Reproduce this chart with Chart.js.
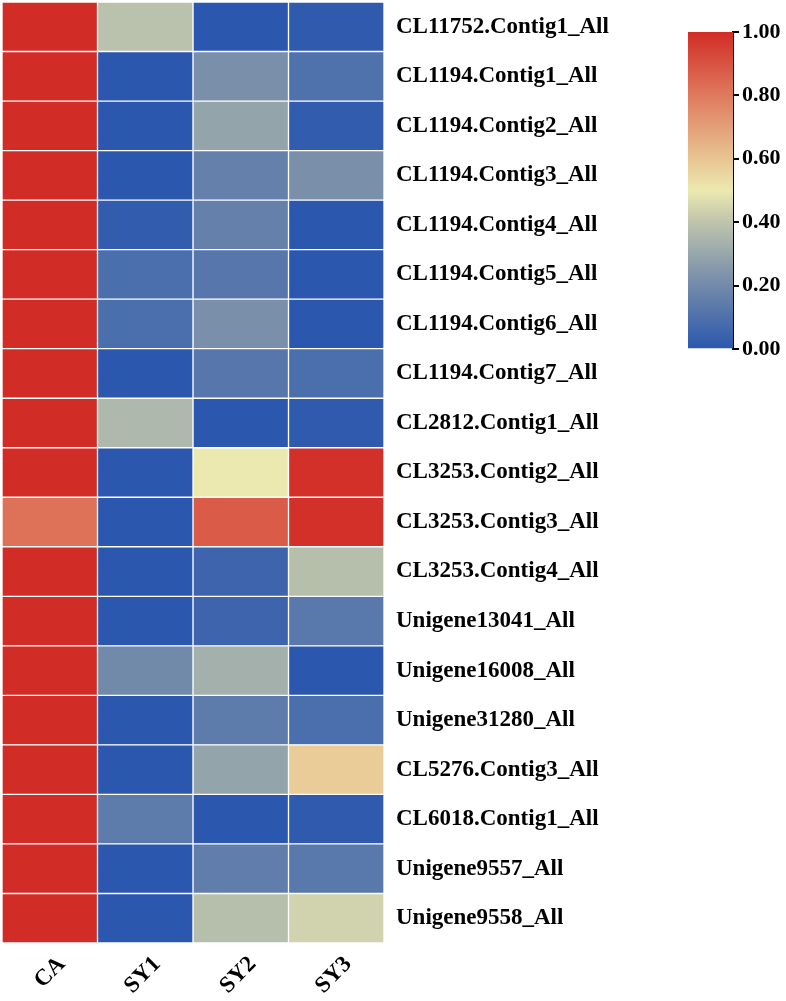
<!DOCTYPE html>
<html>
<head>
<meta charset="utf-8">
<script src="https://cdn.jsdelivr.net/npm/chart.js@4"></script>
<style>
  html, body { margin: 0; padding: 0; background: #fff; }
  body { width: 786px; height: 1001px; position: relative; overflow: hidden; }
  #main { position: absolute; left: 0; top: 0; width: 640px; height: 1001px; }
  #bar { position: absolute; left: 650px; top: 0; width: 136px; height: 380px; }
</style>
</head>
<body>
<div id="main"><canvas id="heat"></canvas></div>
<div id="bar"><canvas id="scale"></canvas></div>
<script>
// ---- data ----
const genes = [
  "CL11752.Contig1_All", "CL1194.Contig1_All", "CL1194.Contig2_All", "CL1194.Contig3_All",
  "CL1194.Contig4_All", "CL1194.Contig5_All", "CL1194.Contig6_All", "CL1194.Contig7_All",
  "CL2812.Contig1_All", "CL3253.Contig2_All", "CL3253.Contig3_All", "CL3253.Contig4_All",
  "Unigene13041_All", "Unigene16008_All", "Unigene31280_All", "CL5276.Contig3_All",
  "CL6018.Contig1_All", "Unigene9557_All", "Unigene9558_All"
];
const samples = ["CA", "SY1", "SY2", "SY3"];
const valuesCA  = [1, 1, 1, 1, 1, 1, 1, 1, 1, 1, 0.82, 1, 1, 1, 1, 1, 1, 1, 1];
const valuesSY1 = [0.39, 0, 0, 0, 0.02, 0.09, 0.09, 0, 0.36, 0, 0, 0, 0, 0.2, 0, 0, 0.14, 0, 0];
const valuesSY2 = [0, 0.22, 0.29, 0.16, 0.16, 0.12, 0.22, 0.12, 0, 0.5, 0.88, 0.05, 0.05, 0.33, 0.14, 0.29, 0, 0.15, 0.38];
const valuesSY3 = [0.01, 0.1, 0.02, 0.22, 0, 0, 0, 0.09, 0.01, 0.99, 0.99, 0.38, 0.13, 0, 0.09, 0.58, 0.01, 0.13, 0.44];
const seriesValues = [valuesCA, valuesSY1, valuesSY2, valuesSY3];
const colorbarTicks = [0, 0.2, 0.4, 0.6, 0.8, 1.0];
const colorbarRange = [0, 1];

// ---- colour map (style) ----
const cmap = [
  [0.0, [43, 87, 174]],
  [0.2, [114, 138, 170]],
  [0.4, [190, 196, 172]],
  [0.5, [236, 233, 176]],
  [0.6, [232, 197, 146]],
  [0.8, [223, 122, 93]],
  [1.0, [210, 44, 38]]
];
function colorFor(v) {
  v = Math.max(0, Math.min(1, v));
  for (let i = 1; i < cmap.length; i++) {
    if (v <= cmap[i][0]) {
      const [a, ca] = cmap[i - 1], [b, cb] = cmap[i];
      const t = (v - a) / (b - a);
      const c = ca.map((x, k) => Math.round(x + (cb[k] - x) * t));
      return `rgb(${c[0]},${c[1]},${c[2]})`;
    }
  }
  const c = cmap[cmap.length - 1][1];
  return `rgb(${c[0]},${c[1]},${c[2]})`;
}

const FONT = "'Liberation Serif', 'Times New Roman', serif";

// ---- heatmap as stacked horizontal bars (each column a dataset of unit width) ----
const datasets = samples.map((s, j) => ({
  label: s,
  data: genes.map(() => 1),
  backgroundColor: seriesValues[j].map(colorFor),
  borderColor: '#ffffff',
  borderWidth: 1,
  borderSkipped: false,
  barPercentage: 1,
  categoryPercentage: 1
}));

new Chart(document.getElementById('heat'), {
  type: 'bar',
  data: { labels: genes, datasets },
  options: {
    indexAxis: 'y',
    responsive: true,
    maintainAspectRatio: false,
    animation: false,
    layout: { padding: { left: 2, top: 2, right: 0, bottom: 0 } },
    plugins: { legend: { display: false }, tooltip: { enabled: false } },
    scales: {
      x: {
        type: 'linear', stacked: true, min: 0, max: samples.length,
        position: 'bottom',
        grid: { display: false, drawTicks: false },
        border: { display: false },
        afterBuildTicks: (s) => { s.ticks = samples.map((_, i) => ({ value: i + 0.5 })); },
        afterFit: (s) => { s.height = 58; s.paddingLeft = 0; s.paddingRight = 0; },
        ticks: {
          autoSkip: false, minRotation: 45, maxRotation: 45, padding: 8, labelOffset: 12,
          color: '#000', font: { family: FONT, size: 23, weight: 'bold' },
          callback: (v, i) => samples[i]
        }
      },
      y: {
        type: 'category', stacked: true, position: 'right',
        grid: { display: false, drawTicks: false },
        border: { display: false },
        afterFit: (s) => { s.width = 256; s.paddingTop = 0; s.paddingBottom = 0; },
        ticks: {
          autoSkip: false, padding: 12, color: '#000',
          font: { family: FONT, size: 23, weight: 'bold' }
        }
      }
    }
  }
});

// ---- colour bar ----
new Chart(document.getElementById('scale'), {
  type: 'bar',
  data: {
    labels: [''],
    datasets: [{
      data: [colorbarRange],
      barPercentage: 1, categoryPercentage: 1, borderWidth: 0,
      backgroundColor: (ctx) => {
        const area = ctx.chart.chartArea;
        if (!area) return '#ccc';
        const g = ctx.chart.ctx.createLinearGradient(0, area.bottom, 0, area.top);
        cmap.forEach(([p, c]) => g.addColorStop(p, `rgb(${c[0]},${c[1]},${c[2]})`));
        return g;
      }
    }]
  },
  options: {
    responsive: true, maintainAspectRatio: false, animation: false,
    layout: { padding: { left: 38, top: 32, right: 0, bottom: 31 } },
    plugins: { legend: { display: false }, tooltip: { enabled: false } },
    scales: {
      x: { display: false },
      y: {
        type: 'linear', position: 'right', min: colorbarRange[0], max: colorbarRange[1],
        afterBuildTicks: (s) => { s.ticks = colorbarTicks.map(v => ({ value: v })); },
        afterFit: (s) => { s.width = 53; },
        border: { display: true, color: '#000', width: 2 },
        grid: { drawOnChartArea: false, drawTicks: true, tickLength: 6, color: '#000', lineWidth: 2 },
        ticks: {
          padding: 3, color: '#000',
          font: { family: FONT, size: 22, weight: 'bold' },
          callback: (v) => Number(v).toFixed(2)
        }
      }
    }
  }
});
</script>
</body>
</html>
